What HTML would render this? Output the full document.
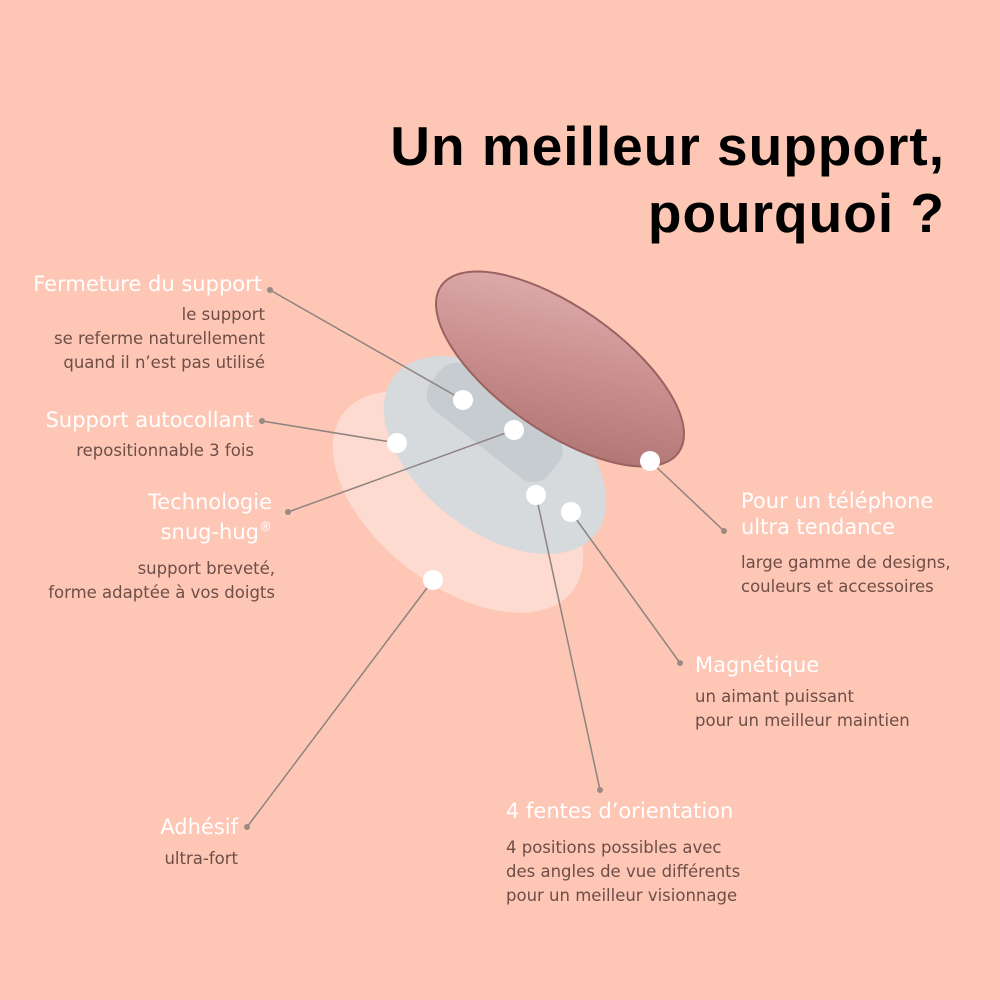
<!DOCTYPE html>
<html><head><meta charset="utf-8"><style>
body{margin:0}
.p{position:relative;width:1000px;height:1000px;background:#fdc6b5;overflow:hidden;font-family:"DejaVu Sans","Liberation Sans",sans-serif}
.t{position:absolute;right:55px;top:113px;text-align:right;font-family:"Liberation Sans",sans-serif;font-weight:bold;font-size:55px;line-height:67px;color:#000;letter-spacing:1px}
.h{position:absolute;color:#fff;font-size:21px;line-height:26px;white-space:nowrap}
.d{position:absolute;color:#6e4e47;font-size:16.5px;line-height:24px;white-space:nowrap}
.r{text-align:right}
svg{position:absolute;left:0;top:0}
</style></head><body><div class="p">
<svg width="1000" height="1000">
<defs><linearGradient id="g" x1="0" y1="0" x2="1" y2="1"><stop offset="0" stop-color="#e4b4b4"/><stop offset="0.5" stop-color="#c98e8d"/><stop offset="1" stop-color="#a86e6c"/></linearGradient></defs>
<ellipse cx="458" cy="502" rx="145" ry="83" transform="rotate(38 458 502)" fill="#fddbd0"/>
<ellipse cx="495" cy="455" rx="128" ry="76" transform="rotate(38 495 455)" fill="#d6dadc"/>
<rect x="420" y="395" width="150" height="55" rx="20" transform="rotate(38 495 422)" fill="#c6ccd0"/>
<ellipse cx="560" cy="369" rx="145" ry="62" transform="rotate(35 560 369)" fill="url(#g)" stroke="#9a6260" stroke-width="2"/>
<g stroke="#8f8380" stroke-width="1.5" fill="none">
<line x1="270" y1="290" x2="463" y2="400"/>
<line x1="262" y1="421" x2="397" y2="443"/>
<line x1="288" y1="512" x2="514" y2="430"/>
<line x1="724" y1="531" x2="650" y2="461"/>
<line x1="680" y1="663" x2="571" y2="512"/>
<line x1="600" y1="790" x2="536" y2="495"/>
<line x1="247" y1="827" x2="433" y2="580"/>
</g>
<g fill="#fff"><circle cx="463" cy="400" r="10"/><circle cx="514" cy="430" r="10"/><circle cx="397" cy="443" r="10"/><circle cx="650" cy="461" r="10"/><circle cx="536" cy="495" r="10"/><circle cx="571" cy="512" r="10"/><circle cx="433" cy="580" r="10"/></g>
<g fill="#9a8a86"><circle cx="270" cy="290" r="3"/><circle cx="262" cy="421" r="3"/><circle cx="288" cy="512" r="3"/><circle cx="724" cy="531" r="3"/><circle cx="680" cy="663" r="3"/><circle cx="600" cy="790" r="3"/><circle cx="247" cy="827" r="3"/></g>
</svg>
<div class="t">Un meilleur support,<br>pourquoi ?</div>
<div class="h r" style="right:738px;top:271px">Fermeture du support</div>
<div class="d r" style="right:735px;top:303px">le support<br>se referme naturellement<br>quand il n’est pas utilisé</div>
<div class="h r" style="right:747px;top:407px">Support autocollant</div>
<div class="d r" style="right:746px;top:439px">repositionnable 3 fois</div>
<div class="h r" style="right:728px;top:489px">Technologie<br>snug-hug<sup style="font-size:13px">®</sup></div>
<div class="d r" style="right:725px;top:557px">support breveté,<br>forme adaptée à vos doigts</div>
<div class="h" style="left:741px;top:488px">Pour un téléphone<br>ultra tendance</div>
<div class="d" style="left:741px;top:551px">large gamme de designs,<br>couleurs et accessoires</div>
<div class="h" style="left:695px;top:652px">Magnétique</div>
<div class="d" style="left:695px;top:685px">un aimant puissant<br>pour un meilleur maintien</div>
<div class="h" style="left:506px;top:798px">4 fentes d’orientation</div>
<div class="d" style="left:506px;top:836px">4 positions possibles avec<br>des angles de vue différents<br>pour un meilleur visionnage</div>
<div class="h r" style="right:762px;top:814px">Adhésif</div>
<div class="d r" style="right:762px;top:847px">ultra-fort</div>
</div></body></html>
